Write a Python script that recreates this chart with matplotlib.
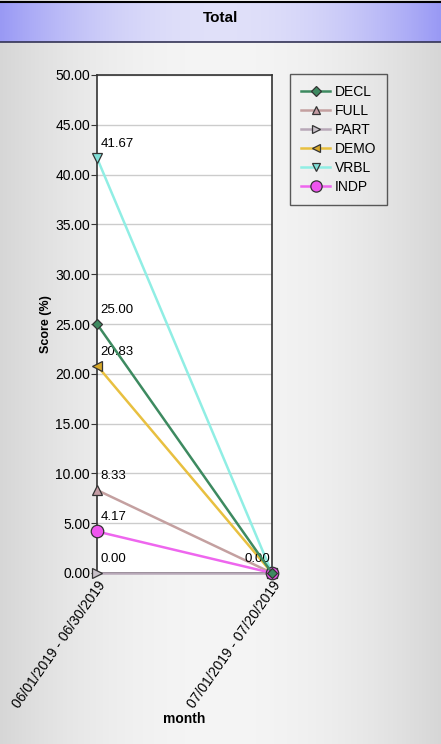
import matplotlib
matplotlib.use("Agg")
import matplotlib.pyplot as plt
import numpy as np

plt.rcParams['font.family'] = ['Liberation Sans', 'DejaVu Sans']

months = ['06/01/2019 - 06/30/2019', '07/01/2019 - 07/20/2019']
series = ['DECL', 'FULL', 'PART', 'DEMO', 'VRBL', 'INDP']
decl = [25.00, 0.00]
full = [8.33, 0.00]
part = [0.00, 0.00]
demo = [20.83, 0.00]
vrbl = [41.67, 0.00]
indp = [4.17, 0.00]
values = [decl, full, part, demo, vrbl, indp]

line_colors = ['#3d8a60', '#c4a0a0', '#b8a8b8', '#e8c040', '#90eee4', '#ee66ee']
face_colors = ['#3d8a60', '#c49ca4', '#c8c0c8', '#d8a828', '#80e0d8', '#ee55ee']
markers = ['D', '^', '>', '<', 'v', 'o']
msizes = [5.5, 7, 7, 7, 7, 9]
zorders = [8, 3, 3, 3, 3, 3]

fig = plt.figure(figsize=(4.41, 7.44), dpi=100)

# grey background gradient
bg = fig.add_axes([0, 0, 1, 1], zorder=-10)
xg = np.linspace(-1, 1, 400)
shade = 0.96 - 0.12 * xg ** 2
img = np.tile(shade, (10, 1))
bg.imshow(np.dstack([img, img, img]), aspect='auto', extent=[0, 1, 0, 1])
bg.set_xlim(0, 1)
bg.set_ylim(0, 1)
bg.axis('off')

# title bar
tb = fig.add_axes([0, 1 - 42 / 744, 1, 40 / 744], zorder=-5)
t = 1 - xg ** 2
r = 0.60 + 0.28 * t
g = 0.60 + 0.28 * t
b = 0.96 + 0.02 * t
tb.imshow(np.dstack([np.tile(r, (10, 1)), np.tile(g, (10, 1)), np.tile(b, (10, 1))]),
          aspect='auto', extent=[0, 1, 0, 1])
tb.set_xlim(0, 1)
tb.set_ylim(0, 1)
tb.set_xticks([])
tb.set_yticks([])
for sp in ['left', 'right']:
    tb.spines[sp].set_visible(False)
tb.spines['top'].set_linewidth(1.5)
tb.spines['bottom'].set_linewidth(1.2)
tb.spines['bottom'].set_color('#333355')
tb.text(0.5, 0.6, 'Total', ha='center', va='center', fontsize=11, fontweight='bold')

ax = fig.add_axes([97 / 441, 1 - 573 / 744, 175 / 441, 498 / 744])
x = np.arange(len(months))
for name, vals, lc, fc, m, ms, z in zip(series, values, line_colors, face_colors, markers, msizes, zorders):
    ax.plot(x, vals, color=lc, lw=1.8, marker=m, markersize=ms, markerfacecolor=fc,
            markeredgecolor='#333333', markeredgewidth=0.9, label=name, clip_on=False, zorder=z)
    ax.text(x[0] + 0.02, vals[0] + 0.8, '%.2f' % vals[0], fontsize=9.5, ha='left', va='bottom')
ax.text(x[1] - 0.01, 0.8, '%.2f' % 0.0, fontsize=9.5, ha='right', va='bottom')

ax.set_xlim(0, 1)
ax.set_ylim(0, 50)
ax.set_yticks(np.arange(0, 50.01, 5))
ax.set_yticklabels(['%.2f' % v for v in np.arange(0, 50.01, 5)], fontsize=10)
ax.set_xticks(x)
ax.set_xticklabels(months, rotation=55, ha='right', rotation_mode='anchor', fontsize=10)
ax.grid(axis='y', color='#cccccc', lw=1)
ax.set_axisbelow(True)
for sp in ax.spines.values():
    sp.set_color('#333333')
    sp.set_linewidth(1.2)
ax.tick_params(axis='y', length=4, color='#333333', pad=1)
ax.tick_params(axis='x', length=0, pad=4)
ax.set_ylabel('Score (%)', fontsize=9, fontweight='bold', labelpad=2)
ax.set_xlabel('month', fontsize=10, fontweight='bold', labelpad=1)

leg = fig.legend(loc='upper left', bbox_to_anchor=(290 / 441, 1 - 74 / 744), fontsize=10,
                 frameon=True, fancybox=False, edgecolor='#333333', handlelength=2.1,
                 handletextpad=0.3, labelspacing=0.36, borderpad=0.8, markerscale=0.9,
                 borderaxespad=0)
leg.get_frame().set_linewidth(1.0)
leg.get_frame().set_facecolor('none')

fig.savefig('out.png', dpi=100)
